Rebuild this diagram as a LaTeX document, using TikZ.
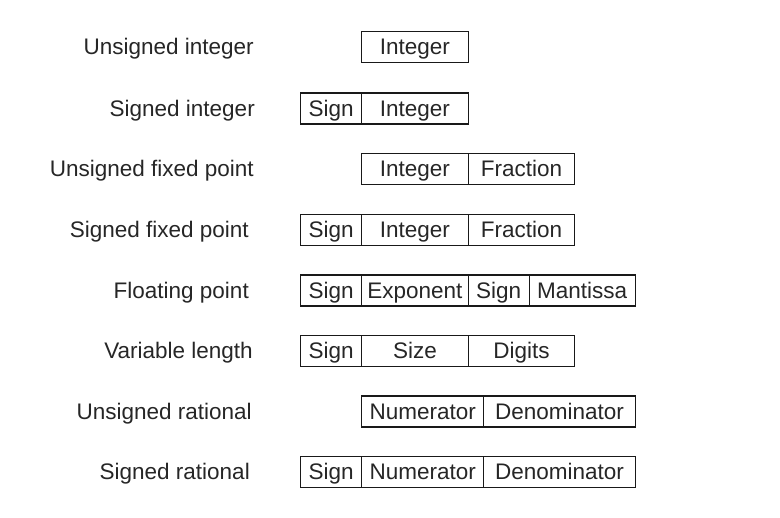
\documentclass[tikz,border=0pt]{standalone}
\usepackage{fontspec}
\setmainfont{Liberation Sans}
\begin{document}
\begin{tikzpicture}[x=1pt,y=-1pt,
  every node/.style={font=\fontsize{22.5}{26}\selectfont, text=black!85},
  cell/.style={draw=black!90, line width=1.4pt, inner sep=0pt, minimum height=31pt,
               text height=20pt, text depth=4pt, anchor=west},
  lbl/.style={inner sep=0pt, text height=20pt, text depth=4pt, anchor=east}]
\useasboundingbox (0,0) rectangle (780,518);
% labels
\node[lbl] (l1) at (254,47) {Unsigned integer};
\node[lbl] (l2) at (255,108.5) {Signed integer};
\node[lbl] (l3) at (254,169) {Unsigned fixed point};
\node[lbl] (l4) at (249,230) {Signed fixed point};
\node[lbl] (l5) at (249,290.5) {Floating point};
\node[lbl] (l6) at (253,351) {Variable length};
\node[lbl] (l7) at (252,411.5) {Unsigned rational};
\node[lbl] (l8) at (250,472) {Signed rational};
% row 1
\node[cell, minimum width=106.5pt] (r1a) at (361,47) {Integer};
% row 2
\node[cell, minimum width=61pt] (r2a) at (300,108.5) {Sign};
\node[cell, minimum width=106.5pt] (r2b) at (361,108.5) {Integer};
% row 3
\node[cell, minimum width=106.5pt] (r3a) at (361,169) {Integer};
\node[cell, minimum width=106.5pt] (r3b) at (467.5,169) {Fraction};
% row 4
\node[cell, minimum width=61pt] (r4a) at (300,230) {Sign};
\node[cell, minimum width=106.5pt] (r4b) at (361,230) {Integer};
\node[cell, minimum width=106.5pt] (r4c) at (467.5,230) {Fraction};
% row 5
\node[cell, minimum width=61pt] (r5a) at (300,290.5) {Sign};
\node[cell, minimum width=106.5pt] (r5b) at (361,290.5) {Exponent};
\node[cell, minimum width=61pt] (r5c) at (467.5,290.5) {Sign};
\node[cell, minimum width=106pt] (r5d) at (528.5,290.5) {Mantissa};
% row 6
\node[cell, minimum width=61pt] (r6a) at (300,351) {Sign};
\node[cell, minimum width=106.5pt] (r6b) at (361,351) {Size};
\node[cell, minimum width=106.5pt] (r6c) at (467.5,351) {Digits};
% row 7
\node[cell, minimum width=122pt] (r7a) at (361,411.5) {Numerator};
\node[cell, minimum width=151.5pt] (r7b) at (483,411.5) {Denominator};
% row 8
\node[cell, minimum width=61pt] (r8a) at (300,472) {Sign};
\node[cell, minimum width=122pt] (r8b) at (361,472) {Numerator};
\node[cell, minimum width=151.5pt] (r8c) at (483,472) {Denominator};
\end{tikzpicture}
\end{document}
